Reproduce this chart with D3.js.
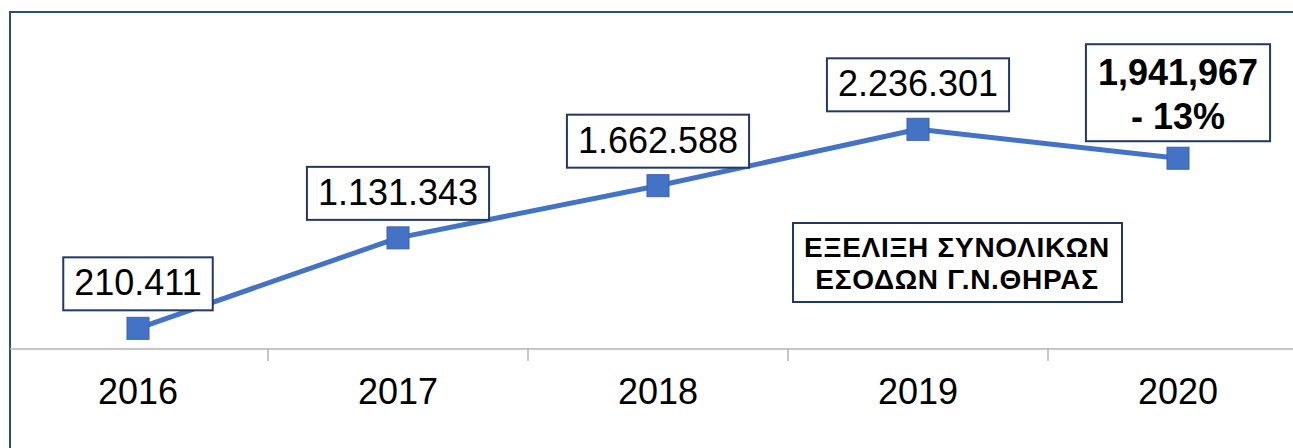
<!DOCTYPE html>
<html>
<head>
<meta charset="utf-8">
<script src="https://cdn.jsdelivr.net/npm/d3@7"></script>
<style>
  body { margin: 0; background: #fff; }
  svg { display: block; font-family: "Liberation Sans", Arial, sans-serif; }
</style>
</head>
<body>
<div id="chart"></div>
<script>
const years = ["2016", "2017", "2018", "2019", "2020"];
const revenue = [210411, 1131343, 1662588, 2236301, 1941967];
const valueLabels = ["210.411", "1.131.343", "1.662.588", "2.236.301", null];
const lastLabel = ["1,941,967", "- 13%"];
const titleLines = ["ΕΞΕΛΙΞΗ ΣΥΝΟΛΙΚΩΝ", "ΕΣΟΔΩΝ Γ.Ν.ΘΗΡΑΣ"];

const width = 1293, height = 448;
const navy = "#203864";
const blue = "#4472C4";

let svg = d3.select("#chart").append("svg")
    .attr("width", width)
    .attr("height", height);

// frame (only left + top are visible in the original)
svg.append("line").attr("x1", 10).attr("x2", 10).attr("y1", 11).attr("y2", height)
    .attr("stroke", "#2e4d7b").attr("stroke-width", 2);
svg.append("line").attr("x1", 10).attr("x2", width).attr("y1", 12).attr("y2", 12)
    .attr("stroke", "#2e4d7b").attr("stroke-width", 2);

let x = d3.scaleBand()
    .domain(years)
    .range([8, 1308]);

let y = d3.scaleLinear()
    .domain([0, 3400000])
    .range([349, 15]);

// x axis
let axis = svg.append("g")
    .attr("transform", "translate(0,349)")
    .call(d3.axisBottom(x).tickSize(0).tickPadding(0));
axis.select(".domain").remove();
axis.selectAll("text")
    .attr("y", 55)
    .attr("dy", null)
    .attr("font-size", 36)
    .attr("font-family", "Liberation Sans, Arial, sans-serif")
    .attr("fill", "#000");

svg.append("line")
    .attr("x1", 10).attr("x2", width)
    .attr("y1", 349).attr("y2", 349)
    .attr("stroke", "#b4b4b4").attr("stroke-width", 1.5);

svg.selectAll(".tick-mark")
    .data(years.slice(1))
    .join("line")
    .attr("class", "tick-mark")
    .attr("x1", d => x(d)).attr("x2", d => x(d))
    .attr("y1", 349).attr("y2", 361)
    .attr("stroke", "#b4b4b4").attr("stroke-width", 1.5);

// line
let pts = years.map((d, i) => ({ year: d, value: revenue[i], label: valueLabels[i] }));
let cx = d => x(d.year) + x.bandwidth() / 2;

svg.append("path")
    .datum(pts)
    .attr("fill", "none")
    .attr("stroke", blue)
    .attr("stroke-width", 5)
    .attr("stroke-linejoin", "round")
    .attr("d", d3.line().x(cx).y(d => y(d.value)));

svg.selectAll(".marker")
    .data(pts)
    .join("rect")
    .attr("class", "marker")
    .attr("x", d => cx(d) - 11)
    .attr("y", d => y(d.value) - 11)
    .attr("width", 22)
    .attr("height", 22)
    .attr("fill", blue)
    .attr("stroke", "#3a63ad")
    .attr("stroke-width", 1);

// value labels
let labels = svg.selectAll(".vlabel")
    .data(pts.filter(d => d.label))
    .join("g")
    .attr("class", "vlabel");

labels.each(function (d) {
    let g = d3.select(this);
    let t = g.append("text")
        .attr("x", cx(d))
        .attr("y", y(d.value) - 18 - 15)
        .attr("text-anchor", "middle")
        .attr("font-size", 36)
        .attr("fill", "#000")
        .text(d.label);
    let w = t.node().getComputedTextLength() + 22;
    g.insert("rect", "text")
        .attr("x", cx(d) - w / 2)
        .attr("y", y(d.value) - 18 - 53)
        .attr("width", w)
        .attr("height", 53)
        .attr("fill", "#fff")
        .attr("stroke", navy)
        .attr("stroke-width", 2);
});

// last point label (bold, two lines)
let last = pts[pts.length - 1];
let lg = svg.append("g");
let boxBottom = y(last.value) - 17;
let lt = lg.selectAll("text")
    .data(lastLabel)
    .join("text")
    .attr("x", cx(last))
    .attr("y", (d, i) => boxBottom - 56 + i * 44)
    .attr("text-anchor", "middle")
    .attr("font-size", 36)
    .attr("font-weight", "bold")
    .attr("fill", "#000")
    .text(d => d);
let lw = d3.max(lt.nodes(), n => n.getComputedTextLength()) + 24;
lg.insert("rect", "text")
    .attr("x", cx(last) - lw / 2)
    .attr("y", boxBottom - 97)
    .attr("width", lw)
    .attr("height", 97)
    .attr("fill", "#fff")
    .attr("stroke", navy)
    .attr("stroke-width", 2);

// title box
let tg = svg.append("g");
let tcx = 957, ttop = 223;
let tt = tg.selectAll("text")
    .data(titleLines)
    .join("text")
    .attr("x", tcx)
    .attr("y", (d, i) => ttop + 34 + i * 32)
    .attr("text-anchor", "middle")
    .attr("font-size", 28)
    .attr("letter-spacing", 0.7)
    .attr("font-weight", "bold")
    .attr("fill", "#000")
    .text(d => d);
tg.insert("rect", "text")
    .attr("x", 793)
    .attr("y", ttop)
    .attr("width", 329)
    .attr("height", 79)
    .attr("fill", "#fff")
    .attr("stroke", navy)
    .attr("stroke-width", 2);
</script>
</body>
</html>
